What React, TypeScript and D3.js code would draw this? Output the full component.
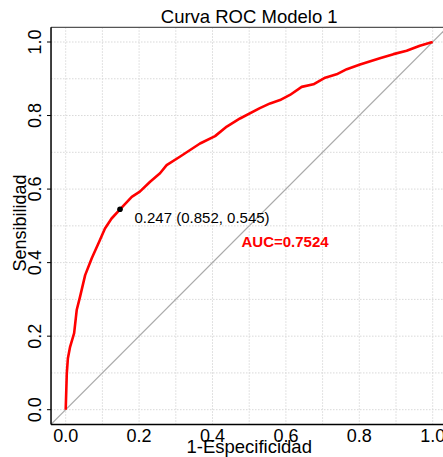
import React from "react";
import * as d3 from "d3";

const fpr = [0, 0.003, 0.006, 0.012, 0.023, 0.03, 0.039, 0.053, 0.071, 0.093, 0.107, 0.125, 0.148, 0.18, 0.202, 0.23, 0.257, 0.275, 0.311, 0.366, 0.407, 0.439, 0.475, 0.529, 0.557, 0.584, 0.611, 0.643, 0.675, 0.707, 0.738, 0.766, 0.802, 0.856, 0.893, 0.929, 0.965, 0.997, 1];
const tpr = [0, 0.099, 0.14, 0.171, 0.208, 0.271, 0.307, 0.366, 0.412, 0.461, 0.493, 0.52, 0.545, 0.579, 0.593, 0.62, 0.643, 0.665, 0.688, 0.724, 0.744, 0.77, 0.792, 0.82, 0.833, 0.842, 0.856, 0.878, 0.885, 0.903, 0.912, 0.926, 0.939, 0.956, 0.967, 0.976, 0.99, 0.999, 1];
const tickValues = [0, 0.2, 0.4, 0.6, 0.8, 1.0];
const tickLabels = ["0.0", "0.2", "0.4", "0.6", "0.8", "1.0"];
const gridValues = [0, 0.1, 0.2, 0.3, 0.4, 0.5, 0.6, 0.7, 0.8, 0.9, 1.0];
const bestThreshold = 0.247;
const bestSpecificity = 0.852;
const bestSensitivity = 0.545;
const auc = 0.7524;

const W = 443;
const H = 457;
const FONT = "'Liberation Sans', Arial, sans-serif";

export default function App() {
  const x = d3.scaleLinear().domain([0, 1]).range([65.7, 432.7]);
  const y = d3.scaleLinear().domain([0, 1]).range([409.7, 42]);
  const left = x(-0.04);
  const right = x(1.04);
  const top = y(1.04);
  const bottom = y(-0.04);

  const pts: [number, number][] = fpr.map((f, i) => [f, tpr[i]]);
  const line = d3
    .line<[number, number]>()
    .x((d) => x(d[0]))
    .y((d) => y(d[1]));

  const bx = 1 - bestSpecificity;

  return (
    <svg
      width={W}
      height={H}
      style={{ position: "absolute", left: 0, top: 0, background: "#fff" }}
      fontFamily={FONT}
    >
      <defs>
        <clipPath id="plotclip">
          <rect x={left} y={top} width={right - left} height={bottom - top} />
        </clipPath>
      </defs>
      <rect x={0} y={0} width={W} height={H} fill="#fff" />
      <g clipPath="url(#plotclip)">
        {gridValues.map((g) => (
          <line
            key={"vx" + g}
            x1={x(g)}
            x2={x(g)}
            y1={top}
            y2={bottom}
            stroke="#d9d9d9"
            strokeWidth={1}
            strokeDasharray="1.5,1.5"
          />
        ))}
        {gridValues.map((g) => (
          <line
            key={"hy" + g}
            x1={left}
            x2={right}
            y1={y(g)}
            y2={y(g)}
            stroke="#d9d9d9"
            strokeWidth={1}
            strokeDasharray="1.5,1.5"
          />
        ))}
        <line
          x1={x(-0.04)}
          y1={y(-0.04)}
          x2={x(1.04)}
          y2={y(1.04)}
          stroke="#aaaaaa"
          strokeWidth={1.3}
        />
        <path d={line(pts) || ""} fill="none" stroke="#ff0000" strokeWidth={2.6} strokeLinejoin="round" />
        <circle cx={x(bx)} cy={y(bestSensitivity)} r={2.8} fill="#000" />
      </g>
      {/* frame */}
      <line x1={left} x2={right} y1={top} y2={top} stroke="#555" strokeWidth={1.2} />
      <line x1={left} x2={left} y1={top} y2={bottom} stroke="#000" strokeWidth={1.5} />
      <line x1={left} x2={right} y1={bottom} y2={bottom} stroke="#000" strokeWidth={1.5} />
      {/* y ticks */}
      {tickValues.map((t, i) => (
        <g key={"yt" + t}>
          <line x1={left - 4} x2={left} y1={y(t)} y2={y(t)} stroke="#000" strokeWidth={1} />
          <text
            transform={`translate(40.7,${y(t)}) rotate(-90)`}
            textAnchor="middle"
            fontSize={18}
            fill="#000"
          >
            {tickLabels[i]}
          </text>
        </g>
      ))}
      {/* x tick labels */}
      {tickValues.map((t, i) => (
        <text key={"xt" + t} x={x(t)} y={441.7} textAnchor="middle" fontSize={18} fill="#000">
          {tickLabels[i]}
        </text>
      ))}
      {/* titles */}
      <text x={(left + right) / 2} y={23} textAnchor="middle" fontSize={18.5} fill="#000">
        Curva ROC Modelo 1
      </text>
      <text x={(left + right) / 2} y={453} textAnchor="middle" fontSize={18.5} fill="#000">
        1-Especificidad
      </text>
      <text transform={`translate(25.5,223) rotate(-90)`} textAnchor="middle" fontSize={18} fill="#000">
        Sensibilidad
      </text>
      {/* annotations */}
      <text x={x(bx) + 14.5} y={y(bestSensitivity) + 13.5} fontSize={15} fill="#000">
        {`${bestThreshold.toFixed(3)} (${bestSpecificity.toFixed(3)}, ${bestSensitivity.toFixed(3)})`}
      </text>
      <text x={241.5} y={247} fontSize={15} fontWeight="bold" fill="#ff0000">
        {`AUC=${auc.toFixed(4)}`}
      </text>
    </svg>
  );
}
